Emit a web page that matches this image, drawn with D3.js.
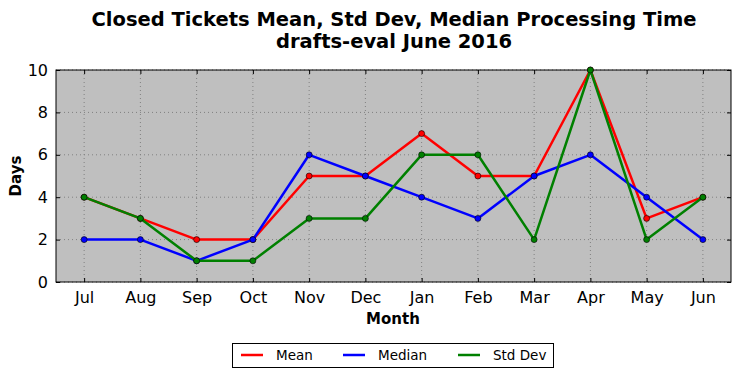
<!DOCTYPE html>
<html><head><meta charset="utf-8">
<script src="https://d3js.org/d3.v7.min.js"></script>
<style>body{margin:0;background:#fff;}svg{display:block;font-family:"DejaVu Sans",sans-serif;}</style>
</head><body>
<svg id="c" width="740" height="378"></svg>
<script>
const months = ["Jul","Aug","Sep","Oct","Nov","Dec","Jan","Feb","Mar","Apr","May","Jun"];
const meanVals = [4,3,2,2,5,5,7,5,5,10,3,4];
const medianVals = [2,2,1,2,6,5,4,3,5,6,4,2];
const stdVals = [4,3,1,1,3,3,6,6,2,10,2,4];
const yTicks = [0,2,4,6,8,10];
const seriesNames = ["Mean","Median","Std Dev"];
const seriesColors = ["#ff0000","#0000ff","#008000"];
const seriesData = [meanVals, medianVals, stdVals];

const svg = d3.select("#c");
const L=56, R=731, T=70, B=282;
const x = d3.scalePoint().domain(months).range([L,R]).padding(0.5);
const y = d3.scaleLinear().domain([0,10]).range([B,T]);

svg.append("rect").attr("x",L).attr("y",T).attr("width",R-L).attr("height",B-T).attr("fill","#bfbfbf");

// grid
const g = svg.append("g");
months.forEach(m=>{
  g.append("line").attr("x1",x(m)).attr("x2",x(m)).attr("y1",T).attr("y2",B)
   .attr("stroke","#808080").attr("stroke-width",1).attr("stroke-dasharray","1,3");
});
yTicks.forEach(v=>{
  g.append("line").attr("x1",L).attr("x2",R).attr("y1",y(v)).attr("y2",y(v))
   .attr("stroke","#808080").attr("stroke-width",1).attr("stroke-dasharray","1,3");
});

// axes with inward ticks
const xb = svg.append("g").attr("transform",`translate(0,${B})`)
  .call(d3.axisBottom(x).tickSize(-4).tickPadding(10));
const xt = svg.append("g").attr("transform",`translate(0,${T})`)
  .call(d3.axisTop(x).tickSize(-4).tickFormat(""));
const yl = svg.append("g").attr("transform",`translate(${L},0)`)
  .call(d3.axisLeft(y).tickValues(yTicks).tickSize(-4).tickPadding(8));
const yr = svg.append("g").attr("transform",`translate(${R},0)`)
  .call(d3.axisRight(y).tickValues(yTicks).tickSize(-4).tickFormat(""));
[xb,xt,yl,yr].forEach(a=>{
  a.select(".domain").remove();
  a.selectAll("line").attr("stroke","#000");
  a.selectAll("text").attr("font-size","16px").attr("fill","#000").attr("font-family","DejaVu Sans, sans-serif");
});
xb.selectAll("text").attr("dy","0.71em");

svg.append("rect").attr("x",L).attr("y",T).attr("width",R-L).attr("height",B-T)
  .attr("fill","none").attr("stroke","#000").attr("stroke-width",1);

// lines
const line = d3.line().x((d,i)=>x(months[i])).y(d=>y(d));
seriesData.forEach((vals,k)=>{
  svg.append("path").datum(vals).attr("d",line).attr("fill","none")
    .attr("stroke",seriesColors[k]).attr("stroke-width",2.5).attr("stroke-linejoin","round");
  svg.selectAll(null).data(vals).enter().append("circle")
    .attr("cx",(d,i)=>x(months[i])).attr("cy",d=>y(d)).attr("r",3)
    .attr("fill",seriesColors[k]).attr("stroke","#000").attr("stroke-width",0.6);
});

// titles
svg.append("text").attr("x",394).attr("y",26).attr("text-anchor","middle")
  .attr("font-size","19.5px").attr("font-weight","bold").text("Closed Tickets Mean, Std Dev, Median Processing Time");
svg.append("text").attr("x",394).attr("y",48).attr("text-anchor","middle")
  .attr("font-size","19.5px").attr("font-weight","bold").text("drafts-eval June 2016");
svg.append("text").attr("x",393).attr("y",324).attr("text-anchor","middle")
  .attr("font-size","15px").attr("font-weight","bold").text("Month");
svg.append("text").attr("transform","translate(21,176) rotate(-90)").attr("text-anchor","middle")
  .attr("font-size","15px").attr("font-weight","bold").text("Days");

// legend
const lg = svg.append("g");
lg.append("rect").attr("x",232.5).attr("y",343.5).attr("width",321).attr("height",24)
  .attr("fill","#fff").attr("stroke","#000").attr("stroke-width",1);
const legX = [241, 343, 458];
seriesNames.forEach((n,k)=>{
  lg.append("line").attr("x1",legX[k]).attr("x2",legX[k]+22).attr("y1",355).attr("y2",355)
    .attr("stroke",seriesColors[k]).attr("stroke-width",2.5);
  lg.append("text").attr("x",legX[k]+35).attr("y",360).attr("font-size","13.5px").text(n);
});
</script>
</body></html>
